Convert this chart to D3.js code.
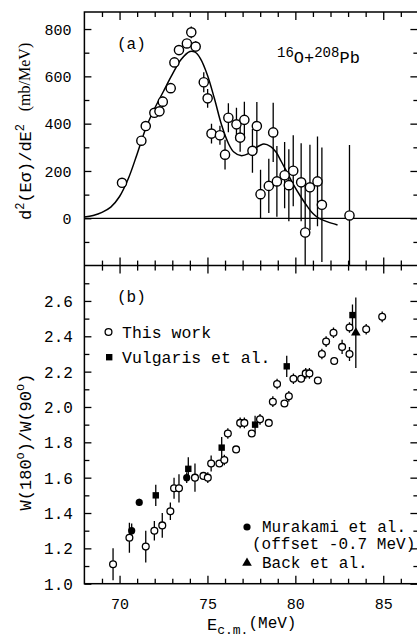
<!DOCTYPE html>
<html><head><meta charset="utf-8">
<script src="https://cdn.jsdelivr.net/npm/d3@7"></script>
<style>body{margin:0;background:#fff}svg{display:block}</style>
</head><body>
<script>
// ---- Data: panel (a) ----
const aEnergy = [70.14,71.24,71.49,71.98,72.27,72.46,72.91,73.12,73.38,73.83,74.08,74.33,74.79,75.01,75.23,75.71,76.00,76.19,76.65,76.86,77.10,77.56,77.81,78.02,78.49,78.74,78.95,79.39,79.63,79.88,80.33,80.56,80.83,81.26,81.51,83.08];
const aValue  = [150,328,390,446,452,493,550,659,711,739,786,726,575,507,358,351,269,425,397,341,416,285,390,102,137,363,156,182,140,201,152,-60,131,156,57,12];
const aError  = [12,12,15,12,20,22,15,15,15,15,25,22,42,40,42,40,63,61,70,60,77,92,102,103,115,125,150,140,152,150,165,220,180,190,242,298];
const curveEnergy = [68.0,68.5,69.0,69.5,70.0,70.5,71.0,71.5,72.0,72.5,73.0,73.5,74.0,74.3,74.6,75.0,75.4,75.8,76.2,76.5,76.9,77.3,77.7,78.2,78.6,78.9,79.2,79.5,79.9,80.3,80.7,81.0,81.3,81.8,82.4];
const curveValue  = [5,12,25,47,92,168,272,382,465,537,608,671,705,702,675,605,505,395,315,280,265,272,295,314,303,280,240,198,141,92,48,20,2,-14,-28];
// ---- Data: panel (b) ----
const thisEnergy = [69.63,70.56,71.49,71.98,72.43,72.89,73.10,73.38,74.29,74.77,75.02,75.21,75.68,75.96,76.16,76.63,76.86,77.10,77.52,77.99,78.49,78.72,78.96,79.38,79.63,79.89,80.33,80.59,80.80,81.28,81.51,81.75,82.17,82.21,82.66,83.08,83.08,84.03,84.94];
const thisRatio  = [1.11,1.26,1.21,1.30,1.33,1.41,1.54,1.54,1.60,1.61,1.60,1.68,1.68,1.70,1.85,1.76,1.91,1.91,1.85,1.93,1.91,2.03,2.13,2.02,2.06,2.16,2.16,2.19,2.19,2.15,2.30,2.37,2.42,2.26,2.34,2.30,2.45,2.44,2.51];
const thisError  = [0.09,0.085,0.09,0.055,0.07,0.05,0.06,0.08,0.08,0.02,0.03,0.045,0.02,0.03,0.03,0.015,0.03,0.03,0.02,0.03,0.015,0.03,0.03,0.02,0.03,0.03,0.02,0.03,0.03,0.02,0.03,0.03,0.03,0.02,0.04,0.04,0.03,0.03,0.03];
const vulEnergy = [72.06,73.91,75.81,77.71,79.51,83.25];
const vulRatio  = [1.50,1.65,1.77,1.90,2.23,2.52];
const vulError  = [0.06,0.065,0.06,0.05,0.06,0.06];
const murEnergy = [70.69,71.12,73.82];
const murRatio  = [1.30,1.46,1.60];
const murError  = [0.04,0.02,0.03];
const backEnergy = [83.44];
const backRatio  = [2.42];
const backError  = [0.20];
// ---- Ticks ----
const xMajor = [70,75,80,85];
const xMinor = [69,71,72,73,74,76,77,78,79,81,82,83,84,86];
const aMajor = [0,200,400,600,800];
const aMinor = [-100,100,300,500,700];
const bMajor = [1.0,1.2,1.4,1.6,1.8,2.0,2.2,2.4,2.6];
const bMinor = [1.1,1.3,1.5,1.7,1.9,2.1,2.3,2.5,2.7];

const W = 417, H = 638;
const L = 84.4, R = 418.4, T = 12, M = 265.6, B = 583.7;
const mono = "'Liberation Mono','DejaVu Sans Mono',monospace";
const serif = "'Liberation Serif','DejaVu Serif',serif";

const svg = d3.select("body").append("svg").attr("width", W).attr("height", H);
const x = d3.scaleLinear().domain([68,87]).range([L,R]);
const ya = d3.scaleLinear().domain([-200,872]).range([M,T]);
const yb = d3.scaleLinear().domain([1.0,2.8]).range([B,M]);

const defs = svg.append("defs");
defs.append("clipPath").attr("id","clipA").append("rect").attr("x",L).attr("y",T).attr("width",R-L).attr("height",M-T);
defs.append("clipPath").attr("id","clipB").append("rect").attr("x",L).attr("y",M).attr("width",R-L).attr("height",B-M);

function ax(gen, tr, vals, size, labels) {
  const g = svg.append("g").attr("transform", tr)
    .call(gen.tickValues(vals).tickSizeInner(size).tickSizeOuter(0).tickFormat(labels ? labels : ""));
  g.select(".domain").remove();
  g.selectAll("line").attr("stroke","#000").attr("stroke-width",1.3);
  return g;
}
// panel a axes
ax(d3.axisTop(x), `translate(0,${T})`, xMajor, -8);
ax(d3.axisTop(x), `translate(0,${T})`, xMinor, -5);
ax(d3.axisBottom(x), `translate(0,${M})`, xMajor, -8);
ax(d3.axisBottom(x), `translate(0,${M})`, xMinor, -5);
const gal = ax(d3.axisLeft(ya), `translate(${L},0)`, aMajor, -7, d3.format("d"));
gal.selectAll("text").attr("x", -13).attr("dy","0.35em").attr("font-family", mono).attr("font-size", 15).attr("fill","#000");
ax(d3.axisLeft(ya), `translate(${L},0)`, aMinor, -5);
ax(d3.axisRight(ya), `translate(${R},0)`, aMajor, -8);
ax(d3.axisRight(ya), `translate(${R},0)`, aMinor, -5);
// panel b axes
ax(d3.axisTop(x), `translate(0,${M})`, xMajor, -8);
ax(d3.axisTop(x), `translate(0,${M})`, xMinor, -5);
const gbx = ax(d3.axisBottom(x), `translate(0,${B})`, xMajor, -8, d3.format("d"));
gbx.selectAll("text").attr("y", 25).attr("dy", 0).attr("font-family", mono).attr("font-size", 15).attr("fill","#000");
ax(d3.axisBottom(x), `translate(0,${B})`, xMinor, -5);
const gbl = ax(d3.axisLeft(yb), `translate(${L},0)`, bMajor, -7, d3.format(".1f"));
gbl.selectAll("text").attr("x", -11.5).attr("dy","0.35em").attr("font-family", mono).attr("font-size", 16).attr("fill","#000");
ax(d3.axisLeft(yb), `translate(${L},0)`, bMinor, -5);
ax(d3.axisRight(yb), `translate(${R},0)`, bMajor, -8);
ax(d3.axisRight(yb), `translate(${R},0)`, bMinor, -5);

// frame
svg.append("rect").attr("x",L).attr("y",T).attr("width",R-L).attr("height",B-T)
  .attr("fill","none").attr("stroke","#000").attr("stroke-width",1.5);
svg.append("line").attr("x1",L).attr("x2",R).attr("y1",M).attr("y2",M).attr("stroke","#000").attr("stroke-width",1.5);

// ---- panel a content ----
const pa = svg.append("g").attr("clip-path","url(#clipA)");
pa.append("line").attr("x1",L).attr("x2",R).attr("y1",ya(0)).attr("y2",ya(0)).attr("stroke","#000").attr("stroke-width",1.2);
const curvePts = curveEnergy.map((e,i)=>[e,curveValue[i]]);
pa.append("path").datum(curvePts)
  .attr("d", d3.line().x(d=>x(d[0])).y(d=>ya(d[1])).curve(d3.curveCatmullRom))
  .attr("fill","none").attr("stroke","#000").attr("stroke-width",1.5);
const aPts = aEnergy.map((e,i)=>({e, v:aValue[i], s:aError[i]}));
pa.selectAll(".eba").data(aPts).join("line")
  .attr("x1",d=>x(d.e)).attr("x2",d=>x(d.e)).attr("y1",d=>ya(d.v-d.s)).attr("y2",d=>ya(d.v+d.s))
  .attr("stroke","#000").attr("stroke-width",1.3);
pa.selectAll(".pta").data(aPts).join("circle")
  .attr("cx",d=>x(d.e)).attr("cy",d=>ya(d.v)).attr("r",4.6)
  .attr("fill","#fff").attr("stroke","#000").attr("stroke-width",1.4);

svg.append("text").attr("x",117).attr("y",49).attr("font-family",mono).attr("font-size",16).text("(a)");
const lab = svg.append("text").attr("x",277).attr("y",63).attr("font-family",mono).attr("font-size",17);
lab.append("tspan").attr("font-size",14).attr("dy",-6).text("16");
lab.append("tspan").attr("dy",6).text("O+");
lab.append("tspan").attr("font-size",14).attr("dy",-6).text("208");
lab.append("tspan").attr("dy",6).text("Pb");

// y label a
const yl1 = svg.append("text").attr("transform","translate(31,172) rotate(-90)")
  .attr("text-anchor","middle").attr("font-family",mono).attr("font-size",17);
yl1.append("tspan").text("d");
yl1.append("tspan").attr("font-size",12).attr("dy",-7).text("2");
yl1.append("tspan").attr("dy",7).text("(E\u03C3)/dE");
yl1.append("tspan").attr("font-size",12).attr("dy",-7).text("2");
svg.append("text").attr("transform","translate(30,77) rotate(-90)")
  .attr("text-anchor","middle").attr("font-family",serif).attr("font-size",16).text("(mb/MeV)");

// ---- panel b content ----
const pb = svg.append("g").attr("clip-path","url(#clipB)");
function ebars(E, V, S) {
  pb.append("g").selectAll("line").data(E.map((e,i)=>({e,v:V[i],s:S[i]}))).join("line")
    .attr("x1",d=>x(d.e)).attr("x2",d=>x(d.e)).attr("y1",d=>yb(d.v-d.s)).attr("y2",d=>yb(d.v+d.s))
    .attr("stroke","#000").attr("stroke-width",1.3);
}
ebars(thisEnergy, thisRatio, thisError);
ebars(vulEnergy, vulRatio, vulError);
ebars(murEnergy, murRatio, murError);
ebars(backEnergy, backRatio, backError);
pb.append("g").selectAll("circle").data(thisEnergy.map((e,i)=>[e,thisRatio[i]])).join("circle")
  .attr("cx",d=>x(d[0])).attr("cy",d=>yb(d[1])).attr("r",3.4)
  .attr("fill","#fff").attr("stroke","#000").attr("stroke-width",1.3);
pb.append("g").selectAll("rect").data(vulEnergy.map((e,i)=>[e,vulRatio[i]])).join("rect")
  .attr("x",d=>x(d[0])-3.2).attr("y",d=>yb(d[1])-3.2).attr("width",6.4).attr("height",6.4).attr("fill","#000");
pb.append("g").selectAll("circle").data(murEnergy.map((e,i)=>[e,murRatio[i]])).join("circle")
  .attr("cx",d=>x(d[0])).attr("cy",d=>yb(d[1])).attr("r",3.6).attr("fill","#000");
const tri = d3.symbol().type(d3.symbolTriangle).size(40);
pb.append("g").selectAll("path").data(backEnergy.map((e,i)=>[e,backRatio[i]])).join("path")
  .attr("transform",d=>`translate(${x(d[0])},${yb(d[1])})`).attr("d",tri()).attr("fill","#000");

svg.append("text").attr("x",117).attr("y",302).attr("font-family",mono).attr("font-size",16).text("(b)");
// legend
svg.append("circle").attr("cx",108.5).attr("cy",332).attr("r",3.4).attr("fill","#fff").attr("stroke","#000").attr("stroke-width",1.3);
svg.append("text").attr("x",122).attr("y",338).attr("font-family",mono).attr("font-size",16.5).text("This work");
svg.append("rect").attr("x",106).attr("y",354).attr("width",6.4).attr("height",6.4).attr("fill","#000");
svg.append("text").attr("x",122).attr("y",363).attr("font-family",mono).attr("font-size",16.5).text("Vulgaris et al.");
svg.append("circle").attr("cx",247).attr("cy",527).attr("r",3.6).attr("fill","#000");
svg.append("text").attr("x",262).attr("y",532).attr("font-family",mono).attr("font-size",16).text("Murakami et al.");
svg.append("text").attr("x",252).attr("y",549).attr("font-family",mono).attr("font-size",16).text("(offset -0.7 MeV)");
svg.append("path").attr("transform","translate(247,563)").attr("d",tri()).attr("fill","#000");
svg.append("text").attr("x",262).attr("y",568).attr("font-family",mono).attr("font-size",16).text("Back et al.");

// y label b
const yl2 = svg.append("text").attr("transform","translate(31,442) rotate(-90)")
  .attr("text-anchor","middle").attr("font-family",mono).attr("font-size",17);
yl2.append("tspan").text("W(180");
yl2.append("tspan").attr("font-size",12).attr("dy",-7).text("o");
yl2.append("tspan").attr("dy",7).text(")/W(90");
yl2.append("tspan").attr("font-size",12).attr("dy",-7).text("o");
yl2.append("tspan").attr("dy",7).text(")");

// x label
const xl = svg.append("text").attr("x",207).attr("y",630).attr("font-family",mono).attr("font-size",17);
xl.append("tspan").text("E");
xl.append("tspan").attr("font-size",13).attr("dy",4).text("c.m.");
xl.append("tspan").attr("font-size",16).attr("dy",-6).text("(MeV)");
</script>
</body></html>
